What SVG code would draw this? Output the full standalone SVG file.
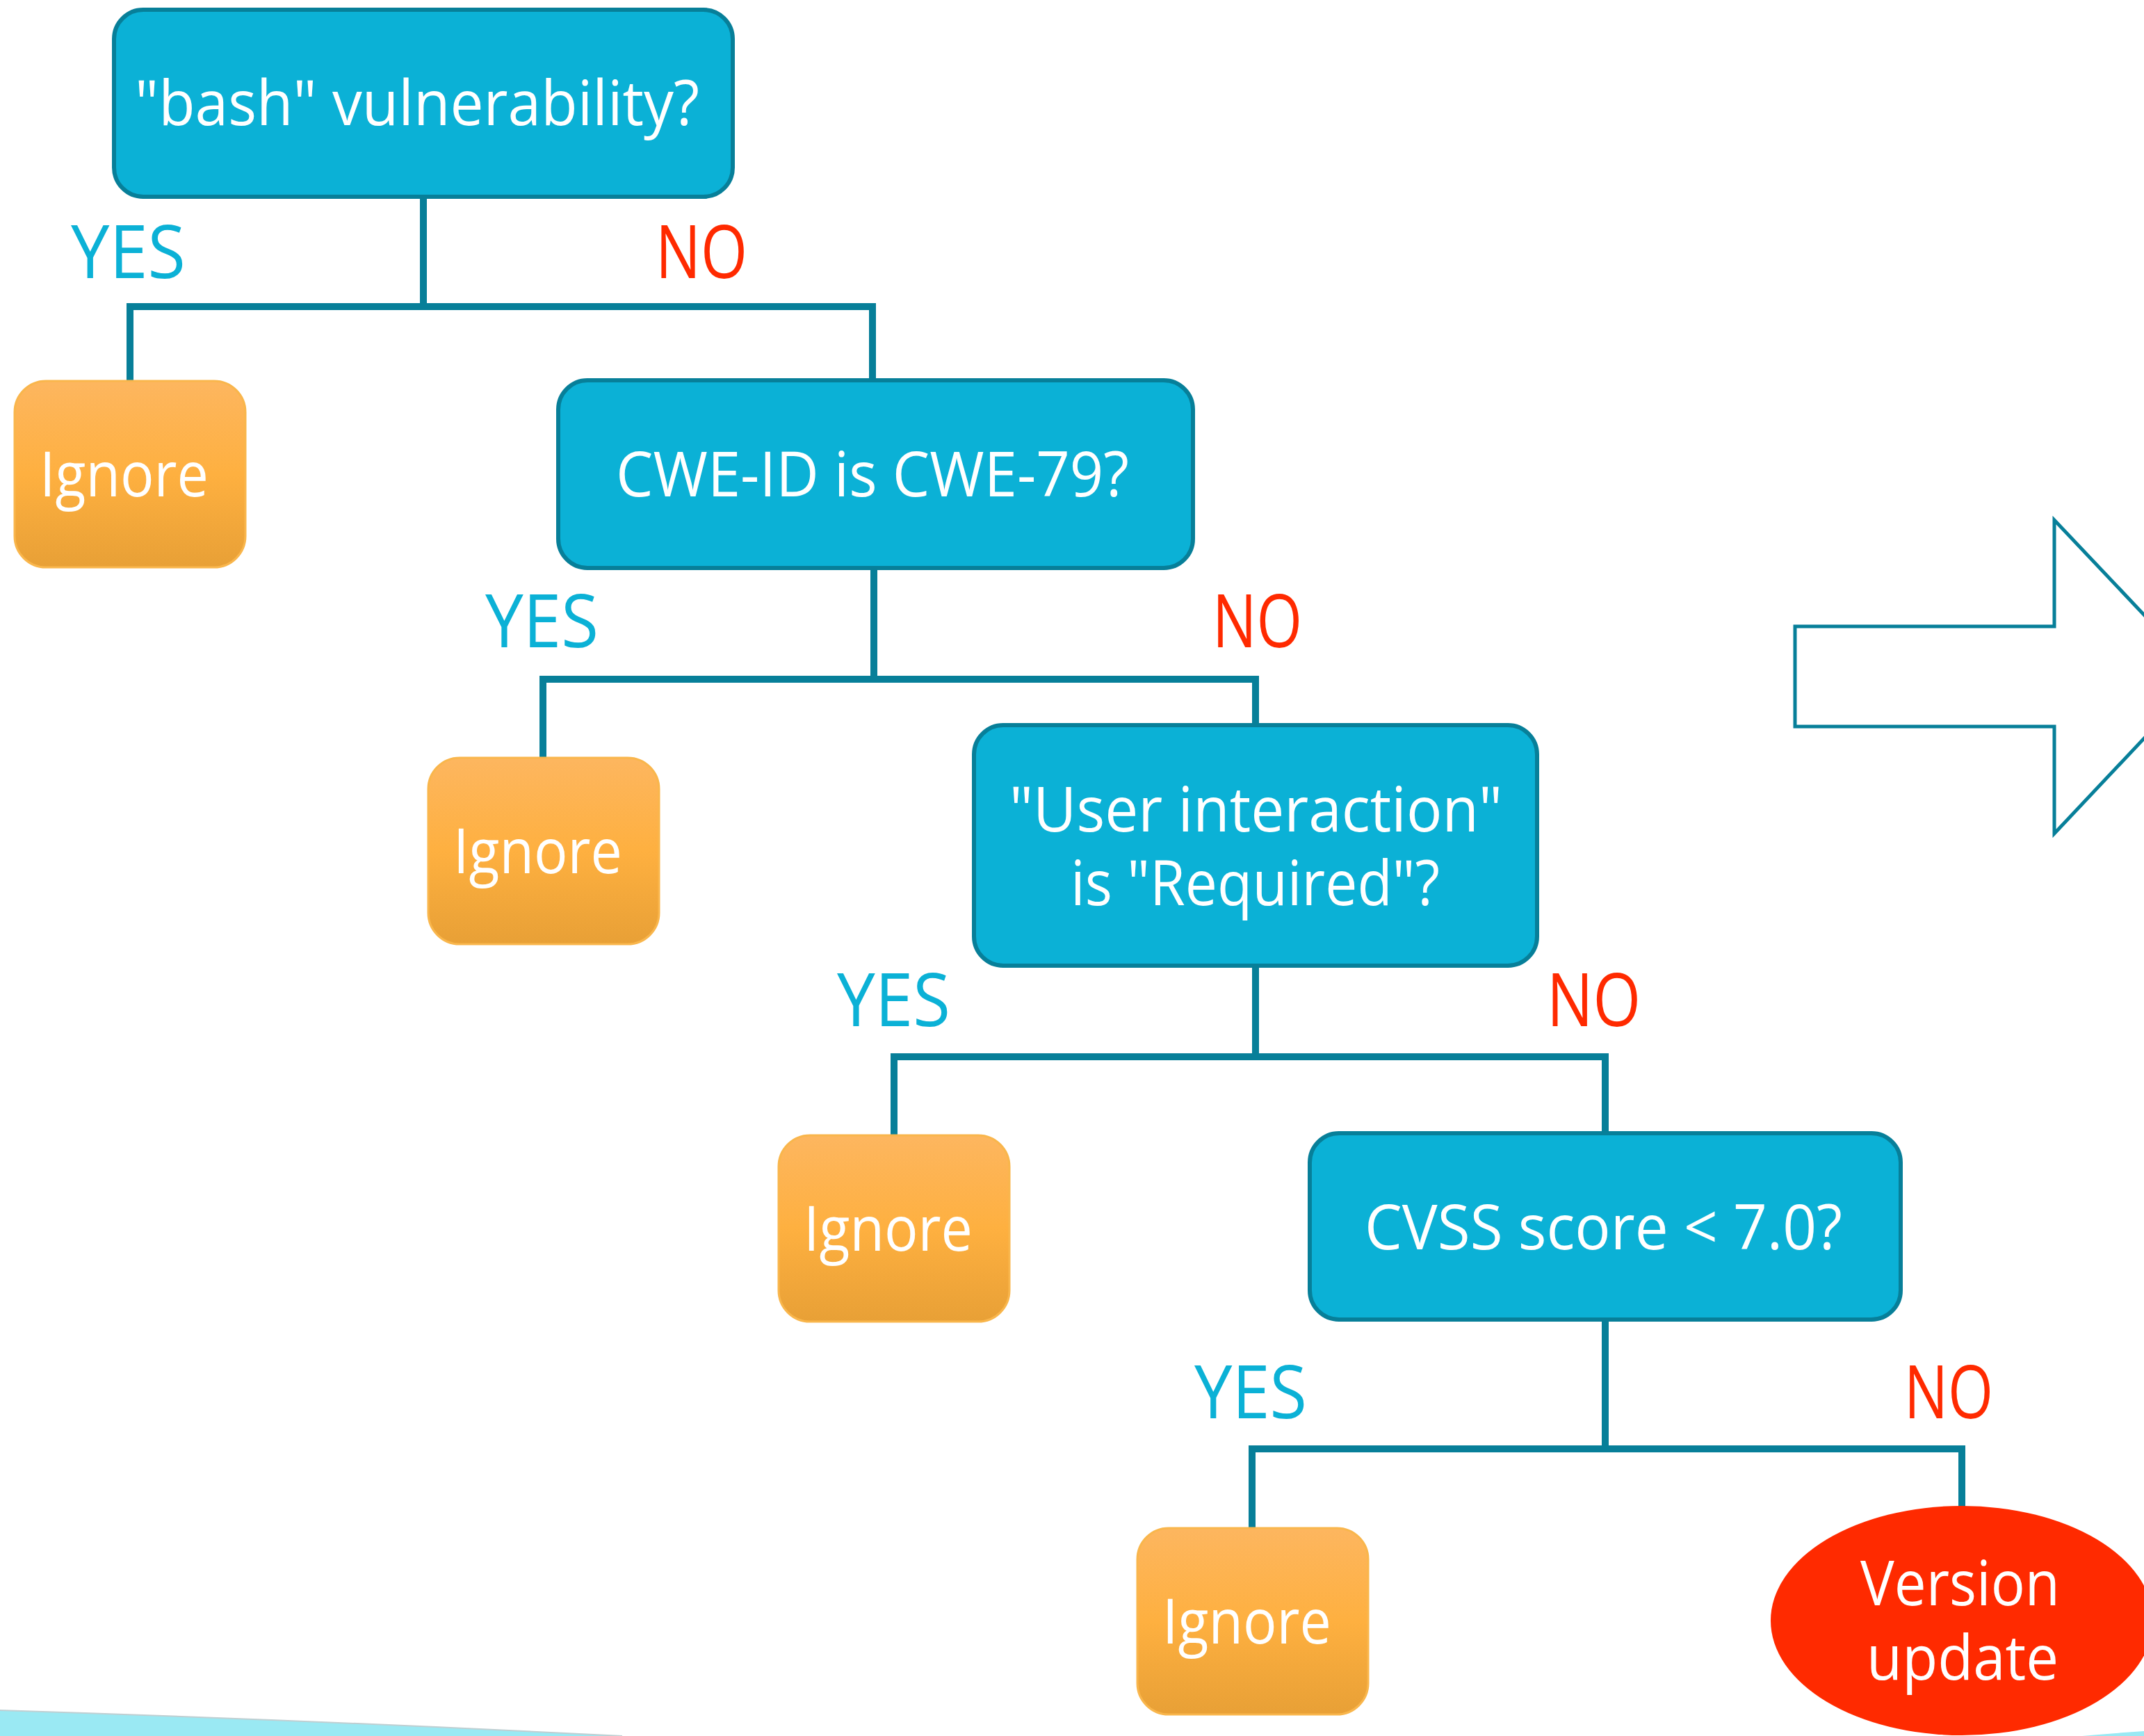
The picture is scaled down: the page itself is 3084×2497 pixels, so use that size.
<svg xmlns="http://www.w3.org/2000/svg" width="3084" height="2497" viewBox="0 0 3084 2497">
  <defs>
    <linearGradient id="orangeFill" x1="0" y1="0" x2="0" y2="1">
      <stop offset="0" stop-color="#fdb65f"/>
      <stop offset="0.5" stop-color="#feb040"/>
      <stop offset="1" stop-color="#e8a036"/>
    </linearGradient>
    <style>
      .decision { fill: #0bb1d6; stroke: #077f99; stroke-width: 6; }
      .action { fill: url(#orangeFill); stroke: #f9b64c; stroke-width: 3; }
      .wire { fill: none; stroke: #077f99; stroke-width: 10; stroke-linejoin: miter; stroke-linecap: butt; }
      .node-text { font-family: "Open Sans", "Liberation Sans", sans-serif; font-size: 90px; fill: #ffffff; }
      .yes { font-family: "Open Sans", "Liberation Sans", sans-serif; font-size: 106px; fill: #0bb1d6; }
      .no { font-family: "Open Sans", "Liberation Sans", sans-serif; font-size: 106px; fill: #ff2a00; }
    </style>
  </defs>

  <rect width="3084" height="2497" fill="#ffffff"/>

  <!-- decorative band along the bottom edge -->
  <path d="M0 2460 Q446 2474 895 2497 L0 2497 Z" fill="#9ae9f3"/>
  <path d="M0 2460 Q446 2474 895 2497" fill="none" stroke="#bfcfd2" stroke-width="2"/>
  <path d="M2995 2497 Q3040 2493 3084 2490 L3084 2497 Z" fill="#9ae9f3"/>

  <!-- connectors -->
  <g id="connectors">
    <path class="wire" d="M609 283 V441"/>
    <path class="wire" d="M187 548 V441 H1255 V547"/>
    <path class="wire" d="M1257 817 V977"/>
    <path class="wire" d="M781 1090 V977 H1806 V1043"/>
    <path class="wire" d="M1806 1389 V1520"/>
    <path class="wire" d="M1286 1633 V1520 H2309 V1630"/>
    <path class="wire" d="M2309 1898 V2084"/>
    <path class="wire" d="M1801 2198 V2084 H2822 V2167"/>
  </g>

  <!-- branch labels -->
  <g id="labels">
    <text class="yes" x="102" y="400" textLength="165" lengthAdjust="spacingAndGlyphs">YES</text>
    <text class="no" x="943" y="400" textLength="132" lengthAdjust="spacingAndGlyphs">NO</text>
    <text class="yes" x="698" y="931" textLength="163" lengthAdjust="spacingAndGlyphs">YES</text>
    <text class="no" x="1744" y="931" textLength="129" lengthAdjust="spacingAndGlyphs">NO</text>
    <text class="yes" x="1204" y="1476" textLength="163" lengthAdjust="spacingAndGlyphs">YES</text>
    <text class="no" x="2225" y="1476" textLength="135" lengthAdjust="spacingAndGlyphs">NO</text>
    <text class="yes" x="1718" y="2040" textLength="162" lengthAdjust="spacingAndGlyphs">YES</text>
    <text class="no" x="2739" y="2040" textLength="128" lengthAdjust="spacingAndGlyphs">NO</text>
  </g>

  <!-- decision nodes -->
  <g id="q-bash">
    <rect class="decision" x="164" y="14" width="890" height="269" rx="42" ry="42"/>
    <text class="node-text" x="194" y="180" textLength="812" lengthAdjust="spacingAndGlyphs">"bash" vulnerability?</text>
  </g>
  <g id="q-cwe">
    <rect class="decision" x="803" y="547" width="913" height="270" rx="42" ry="42"/>
    <text class="node-text" x="886" y="714" textLength="738" lengthAdjust="spacingAndGlyphs">CWE-ID is CWE-79?</text>
  </g>
  <g id="q-user-interaction">
    <rect class="decision" x="1401" y="1043" width="810" height="346" rx="42" ry="42"/>
    <text class="node-text" x="1452" y="1196" textLength="709" lengthAdjust="spacingAndGlyphs">"User interaction"</text>
    <text class="node-text" x="1540" y="1302" textLength="531" lengthAdjust="spacingAndGlyphs">is "Required"?</text>
  </g>
  <g id="q-cvss">
    <rect class="decision" x="1884" y="1630" width="850" height="268" rx="42" ry="42"/>
    <text class="node-text" x="1963" y="1797" textLength="687" lengthAdjust="spacingAndGlyphs">CVSS score &lt; 7.0?</text>
  </g>

  <!-- outcome nodes -->
  <g id="ignore-1">
    <rect class="action" x="21" y="548" width="332" height="268" rx="45" ry="45"/>
    <text class="node-text" x="57" y="714" textLength="243" lengthAdjust="spacingAndGlyphs">Ignore</text>
  </g>
  <g id="ignore-2">
    <rect class="action" x="616" y="1090" width="332" height="268" rx="45" ry="45"/>
    <text class="node-text" x="652" y="1256" textLength="243" lengthAdjust="spacingAndGlyphs">Ignore</text>
  </g>
  <g id="ignore-3">
    <rect class="action" x="1120" y="1633" width="332" height="268" rx="45" ry="45"/>
    <text class="node-text" x="1156" y="1799" textLength="243" lengthAdjust="spacingAndGlyphs">Ignore</text>
  </g>
  <g id="ignore-4">
    <rect class="action" x="1636" y="2198" width="332" height="268" rx="45" ry="45"/>
    <text class="node-text" x="1672" y="2364" textLength="243" lengthAdjust="spacingAndGlyphs">Ignore</text>
  </g>
  <g id="version-update">
    <ellipse cx="2822" cy="2331" rx="275" ry="165" fill="#ff2a00"/>
    <text class="node-text" x="2676" y="2309" textLength="287" lengthAdjust="spacingAndGlyphs">Version</text>
    <text class="node-text" x="2685" y="2416" textLength="276" lengthAdjust="spacingAndGlyphs">update</text>
  </g>

  <!-- outlined block arrow on the right -->
  <g id="block-arrow">
    <path d="M2582 901 H2955 V748 L3168 973 L2955 1199 V1045 H2582 Z" fill="#ffffff" stroke="#077f99" stroke-width="5"/>
  </g>
</svg>
